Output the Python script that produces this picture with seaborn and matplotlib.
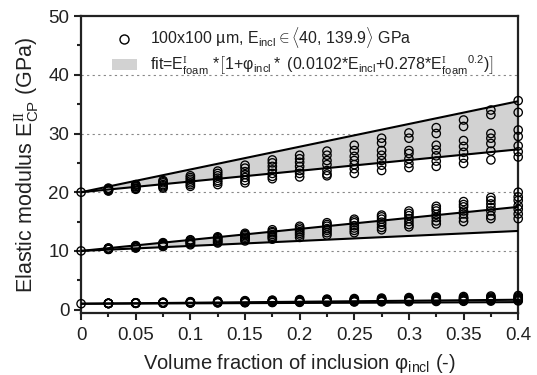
import numpy as np
import pandas as pd
import matplotlib
matplotlib.use("Agg")
import matplotlib.pyplot as plt
from matplotlib.lines import Line2D
from matplotlib.patches import Patch
from matplotlib.ticker import MultipleLocator, FormatStrFormatter
import seaborn as sns

# ── data ──────────────────────────────────────────────────────
PHI = [0.0, 0.025, 0.05, 0.075, 0.1, 0.125, 0.15, 0.175, 0.2,
       0.225, 0.25, 0.275, 0.3, 0.325, 0.35, 0.375, 0.4]

# simulated moduli for E_foam = 20 GPa, one list per phi
E20 = [
    [20.0],
    [20.7, 20.6, 20.5, 20.4, 20.4, 20.3, 20.2],
    [21.3, 21.2, 21.0, 20.9, 20.7, 20.6, 20.5],
    [22.0, 21.8, 21.6, 21.3, 21.1, 20.9, 20.7],
    [22.8, 22.5, 22.2, 21.9, 21.6, 21.3, 21.0],
    [23.6, 23.2, 22.8, 22.4, 22.0, 21.7, 21.3],
    [24.6, 24.1, 23.5, 23.0, 22.5, 22.0, 21.6],
    [25.5, 25.0, 24.4, 23.8, 23.2, 22.7, 22.3],
    [26.3, 25.7, 25.1, 24.4, 23.7, 23.2, 22.6],
    [27.0, 26.3, 25.4, 24.7, 23.7, 23.1, 22.8],
    [28.0, 27.1, 26.1, 25.4, 24.7, 24.0, 23.2],
    [29.2, 28.4, 27.1, 26.3, 25.4, 24.6, 23.7],
    [30.1, 29.2, 27.1, 26.6, 25.7, 24.9, 24.2],
    [31.0, 30.0, 28.0, 27.2, 26.2, 25.3, 24.4],
    [32.3, 31.2, 28.8, 27.8, 26.8, 25.8, 24.9],
    [34.0, 33.2, 30.0, 29.2, 28.3, 27.0, 25.5],
    [35.6, 33.6, 30.6, 29.5, 27.9, 26.9, 26.0],
]

# E_foam = 10 GPa
E10 = [
    [10.0],
    [10.5, 10.45, 10.4, 10.35, 10.3, 10.3, 10.25],
    [10.9, 10.85, 10.75, 10.7, 10.6, 10.55, 10.5],
    [11.4, 11.3, 11.2, 11.1, 10.95, 10.85, 10.75],
    [11.9, 11.8, 11.6, 11.5, 11.35, 11.2, 11.05],
    [12.4, 12.25, 12.1, 11.9, 11.7, 11.5, 11.35],
    [13.0, 12.8, 12.6, 12.35, 12.1, 11.9, 11.7],
    [13.6, 13.3, 13.1, 12.8, 12.5, 12.3, 12.0],
    [14.2, 13.9, 13.6, 13.3, 13.0, 12.7, 12.3],
    [14.8, 14.5, 14.2, 13.8, 13.5, 13.1, 12.7],
    [15.4, 15.1, 14.8, 14.3, 13.9, 13.5, 13.1],
    [16.1, 15.8, 15.4, 14.9, 14.5, 14.0, 13.6],
    [16.8, 16.4, 16.0, 15.5, 15.0, 14.5, 14.1],
    [17.6, 17.2, 16.8, 16.2, 15.7, 15.1, 14.6],
    [18.4, 17.9, 17.5, 16.8, 16.3, 15.6, 15.0],
    [19.1, 18.6, 18.0, 17.4, 16.8, 16.0, 15.5],
    [20.0, 19.2, 18.6, 17.7, 17.1, 16.3, 15.5],
]

# E_foam = 1 GPa
E1 = [
    [1.0],
    [1.09, 1.07, 1.06, 1.05, 1.05, 1.04, 1.03],
    [1.17, 1.15, 1.13, 1.11, 1.09, 1.08, 1.06],
    [1.26, 1.22, 1.19, 1.16, 1.14, 1.11, 1.09],
    [1.35, 1.30, 1.26, 1.22, 1.19, 1.15, 1.12],
    [1.44, 1.38, 1.33, 1.28, 1.24, 1.19, 1.15],
    [1.52, 1.45, 1.39, 1.33, 1.28, 1.22, 1.18],
    [1.61, 1.53, 1.46, 1.39, 1.33, 1.26, 1.21],
    [1.70, 1.60, 1.52, 1.44, 1.38, 1.30, 1.24],
    [1.79, 1.68, 1.59, 1.50, 1.43, 1.34, 1.27],
    [1.88, 1.75, 1.65, 1.55, 1.48, 1.38, 1.30],
    [1.96, 1.83, 1.72, 1.61, 1.52, 1.41, 1.33],
    [2.05, 1.90, 1.78, 1.66, 1.57, 1.45, 1.36],
    [2.14, 1.98, 1.85, 1.72, 1.62, 1.49, 1.39],
    [2.23, 2.05, 1.91, 1.77, 1.67, 1.53, 1.42],
    [2.31, 2.13, 1.98, 1.83, 1.71, 1.56, 1.45],
    [2.40, 2.20, 2.04, 1.88, 1.76, 1.60, 1.48],
]

# fit band: value at phi=0 and at phi=0.4 for upper / lower E_incl
FIT_PHI = [0.0, 0.4]
FIT_UPPER = {20: [20.0, 35.5], 10: [10.0, 17.5], 1: [1.0, 1.68]}
FIT_LOWER = {20: [20.0, 27.3], 10: [10.0, 13.4], 1: [1.0, 1.27]}

# ── long table for seaborn ───────────────────────────────────
rows = []
for ef, cols in [(20, E20), (10, E10), (1, E1)]:
    for phi, vals in zip(PHI, cols):
        for v in vals:
            rows.append({"phi": phi, "E": v, "Efoam": ef})
df = pd.DataFrame(rows)

# ── style ────────────────────────────────────────────────────
sns.set_style("ticks")
plt.rcParams["font.family"] = ["Liberation Sans", "DejaVu Sans"]
plt.rcParams["mathtext.fontset"] = "custom"
plt.rcParams["mathtext.rm"] = "Liberation Sans"
plt.rcParams["mathtext.it"] = "Liberation Sans:italic"
plt.rcParams["mathtext.bf"] = "Liberation Sans:bold"
plt.rcParams["mathtext.sf"] = "Liberation Serif"   # serif roman numerals
TXT = "#222222"
plt.rcParams["text.color"] = TXT
plt.rcParams["axes.labelcolor"] = TXT
plt.rcParams["xtick.color"] = TXT
plt.rcParams["ytick.color"] = TXT

fig, ax = plt.subplots(figsize=(5.37, 3.75), dpi=100)
fig.subplots_adjust(left=0.151, right=0.965, top=0.957, bottom=0.165)

GRAY = "#d2d2d2"
for ef in (20, 10, 1):
    ax.fill_between(FIT_PHI, FIT_LOWER[ef], FIT_UPPER[ef], color=GRAY, lw=0, zorder=1)
    ax.plot(FIT_PHI, FIT_UPPER[ef], color="black", lw=1.5, zorder=3)
    ax.plot(FIT_PHI, FIT_LOWER[ef], color="black", lw=1.5, zorder=3)

sns.scatterplot(
    data=df, x="phi", y="E", ax=ax, marker="o", s=36,
    facecolor="none", edgecolor="black", linewidth=0.95,
    legend=False, zorder=4, clip_on=False,
)

ax.set_xlim(0, 0.4)
ax.set_ylim(-0.6, 50)
ax.xaxis.set_major_locator(MultipleLocator(0.05))
ax.xaxis.set_minor_locator(MultipleLocator(0.025))
ax.yaxis.set_major_locator(MultipleLocator(10))
ax.yaxis.set_minor_locator(MultipleLocator(5))
ax.xaxis.set_major_formatter(FormatStrFormatter("%g"))
ax.tick_params(which="major", direction="out", length=5, width=1.5, labelsize=13.5)
ax.tick_params(which="minor", direction="out", length=3, width=1.5)
ax.tick_params(axis="x", pad=5)

for y in (10, 20, 30, 40):
    ax.axhline(y, color="#888888", lw=0.8, ls=(0, (2, 3)), zorder=0)

for sp in ax.spines.values():
    sp.set_visible(True)
    sp.set_linewidth(1.6)
    sp.set_color(TXT)

ax.set_xlabel(r"Volume fraction of inclusion φ$_{\mathrm{incl}}$ (-)", fontsize=14.5, labelpad=6)
ax.set_ylabel(r"Elastic modulus E$^{\mathsf{II}}_{\mathrm{CP}}$ (GPa)", fontsize=15.5, labelpad=5)

handles = [
    Line2D([], [], marker="o", ls="none", mfc="none", mec="black", ms=6.5, mew=1.0),
    Patch(facecolor=GRAY, edgecolor="none"),
]
labels = [
    r"100x100 µm, E$_{\mathrm{incl}}$$\in\langle$40, 139.9$\rangle$ GPa",
    r"fit=E$^{\mathsf{I}}_{\mathrm{foam}}$ *$\left[\mathrm{1{+}φ_{incl}*}\ (0.0102\mathrm{*E_{incl}}"
    r"{+}0.278\mathrm{*E^{\mathsf{I}}_{foam}}{}^{0.2})\right]$",
]
ax.legend(handles, labels, loc="upper left", bbox_to_anchor=(0.055, 0.99),
          frameon=False, fontsize=11.5, handlelength=1.6, handletextpad=0.8,
          labelspacing=0.2, borderaxespad=0)

fig.savefig("out.png", dpi=100)
